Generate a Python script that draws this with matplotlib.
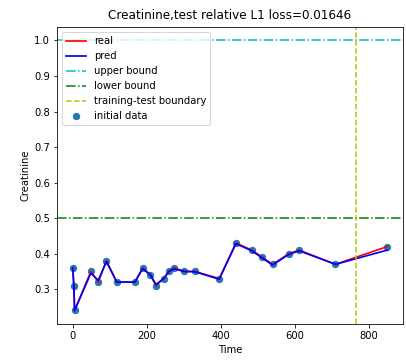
import matplotlib
matplotlib.use("Agg")
import matplotlib.pyplot as plt

time = [0, 3, 5, 49, 69, 91, 119, 168, 189, 210, 225, 246, 260, 274, 302, 330, 396, 441, 484, 512, 540, 584, 612, 710, 850]
real = [0.36, 0.31, 0.24, 0.35, 0.32, 0.38, 0.32, 0.32, 0.36, 0.34, 0.31, 0.33, 0.35, 0.36, 0.35, 0.35, 0.33, 0.43, 0.41, 0.39, 0.37, 0.40, 0.41, 0.37, 0.42]
pred = [0.36, 0.31, 0.24, 0.345, 0.325, 0.378, 0.32, 0.32, 0.358, 0.34, 0.313, 0.33, 0.35, 0.357, 0.35, 0.349, 0.328, 0.428, 0.408, 0.388, 0.368, 0.398, 0.408, 0.37, 0.41]
upper_bound = 1.0
lower_bound = 0.5
boundary = 765
title = "Creatinine,test relative L1 loss=0.01646"

DPI = 72
fig = plt.figure(figsize=(406/DPI, 361/DPI), dpi=DPI)
ax = fig.add_axes([57/406, 1-324/361, (403-57)/406, (324-27)/361])
ax.plot(time, real, color='r', label='real', lw=1.7)
ax.plot(time, pred, color='b', label='pred', lw=1.7)
ax.axhline(upper_bound, color='c', linestyle='-.', label='upper bound')
ax.axhline(lower_bound, color='g', linestyle='-.', label='lower bound')
ax.axvline(boundary, color='y', linestyle='--', label='training-test boundary')
ax.scatter(time, real, label='initial data', s=40)
ax.set_title(title, pad=8)
ax.set_xlabel('Time')
ax.set_ylabel('Creatinine')
ax.legend(loc='upper left')
fig.savefig('out.png', dpi=DPI)
